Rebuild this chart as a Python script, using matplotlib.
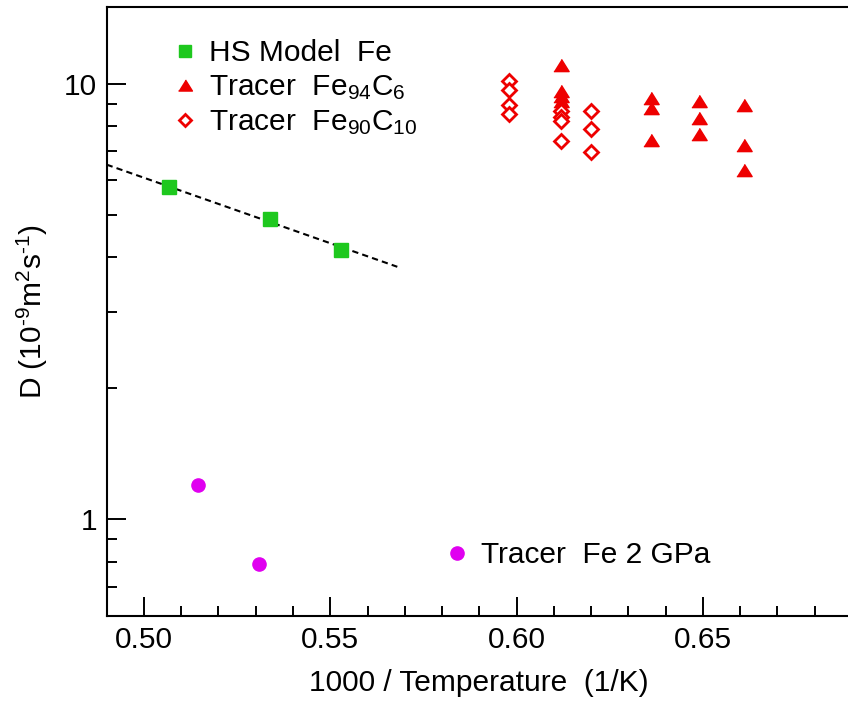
import matplotlib
matplotlib.use("Agg")
import matplotlib.pyplot as plt
from matplotlib.lines import Line2D
import numpy as np

plt.rcParams['font.family'] = ['Liberation Sans', 'DejaVu Sans']
plt.rcParams['mathtext.fontset'] = 'custom'
plt.rcParams['mathtext.rm'] = 'Liberation Sans'
plt.rcParams['mathtext.it'] = 'Liberation Sans:italic'
plt.rcParams['mathtext.default'] = 'regular'

# ---------------- data ----------------
hs_x = [0.5068, 0.5338, 0.5530]
hs_y = [5.80, 4.89, 4.15]

fit_x = [0.490, 0.568]
fit_y = [6.52, 3.80]

fe94_x = [0.612, 0.612, 0.612, 0.612,
          0.636, 0.636, 0.636,
          0.649, 0.649, 0.649,
          0.661, 0.661, 0.661]
fe94_y = [11.03, 9.60, 9.35, 9.11,
          9.29, 8.78, 7.44,
          9.13, 8.34, 7.65,
          8.93, 7.22, 6.33]

fe90_x = [0.598, 0.598, 0.598, 0.598,
          0.612, 0.612, 0.612, 0.612,
          0.620, 0.620, 0.620]
fe90_y = [10.17, 9.69, 8.95, 8.54,
          8.64, 8.37, 8.20, 7.38,
          8.66, 7.89, 6.97]

fe2_x = [0.5146, 0.5309]
fe2_y = [1.198, 0.789]

labels = ["HS Model  Fe", "Tracer  Fe$_{94}$C$_{6}$", "Tracer  Fe$_{90}$C$_{10}$", "Tracer  Fe 2 GPa"]
xticks = [0.50, 0.55, 0.60, 0.65]
xticklabels = ["0.50", "0.55", "0.60", "0.65"]
yticks = [1, 10]
yticklabels = ["1", "10"]

green = '#1ec81e'
red = '#ee0000'
magenta = '#e000f0'

tri = [(-1, -0.8), (1, -0.8), (0, 0.8)]

fig = plt.figure(figsize=(8.48, 7.02), dpi=100)
ax = fig.add_axes([0.1258, 0.1225, 0.8788, 0.8675])

ax.plot(fit_x, fit_y, color='black', lw=1.5, dashes=(3, 2))
ax.plot(hs_x, hs_y, ls='none', marker='s', ms=10.5, color=green, mec=green)
ax.plot(fe94_x, fe94_y, ls='none', marker=tri, ms=11, color=red, mec=red)
ax.plot(fe90_x, fe90_y, ls='none', marker='D', ms=7, mfc='white', mec=red, mew=2)
ax.plot(fe2_x, fe2_y, ls='none', marker='o', ms=9.5, color=magenta, mec=magenta)

ax.set_yscale('log')
ax.set_xlim(0.49, 0.69)
ax.set_ylim(0.6, 15)

ax.set_xticks(xticks)
ax.set_xticklabels(xticklabels)
ax.set_xticks(np.arange(0.49, 0.6901, 0.01), minor=True)
ax.set_yticks(yticks)
ax.set_yticklabels(yticklabels)
ax.yaxis.set_minor_locator(matplotlib.ticker.LogLocator(base=10, subs=np.arange(2, 10)))
ax.yaxis.set_minor_formatter(matplotlib.ticker.NullFormatter())

ax.tick_params(which='major', direction='in', length=13.5, width=1.4, labelsize=21.5, pad=7,
               top=False, right=False)
ax.tick_params(which='minor', direction='in', length=7, width=1.4, top=False, right=False)
for s in ax.spines.values():
    s.set_linewidth(1.5)

ax.set_xlabel("1000 / Temperature  (1/K)", fontsize=21.5, labelpad=11)
ax.set_ylabel("D (10$^{\\text{-9}}$m$^{2}$s$^{\\text{-1}}$)", fontsize=21.5, labelpad=10)

h1 = Line2D([], [], ls='none', marker='s', ms=9, color=green)
h2 = Line2D([], [], ls='none', marker=tri, ms=10, color=red)
h3 = Line2D([], [], ls='none', marker='D', ms=6.5, mfc='white', mec=red, mew=2)
h4 = Line2D([], [], ls='none', marker='o', ms=9.5, color=magenta)

leg1 = ax.legend([h1, h2, h3], labels[:3], loc='upper left', bbox_to_anchor=(0.085, 0.947),
                 frameon=False, fontsize=21.5, handlelength=1.0, handletextpad=0.3,
                 labelspacing=0.2, borderpad=0, borderaxespad=0)
ax.add_artist(leg1)
leg2 = ax.legend([h4], labels[3:], loc='upper left', bbox_to_anchor=(0.45, 0.123),
                 frameon=False, fontsize=21.5, handlelength=1.0, handletextpad=0.3,
                 borderpad=0, borderaxespad=0)

fig.savefig("out.png", dpi=100)
